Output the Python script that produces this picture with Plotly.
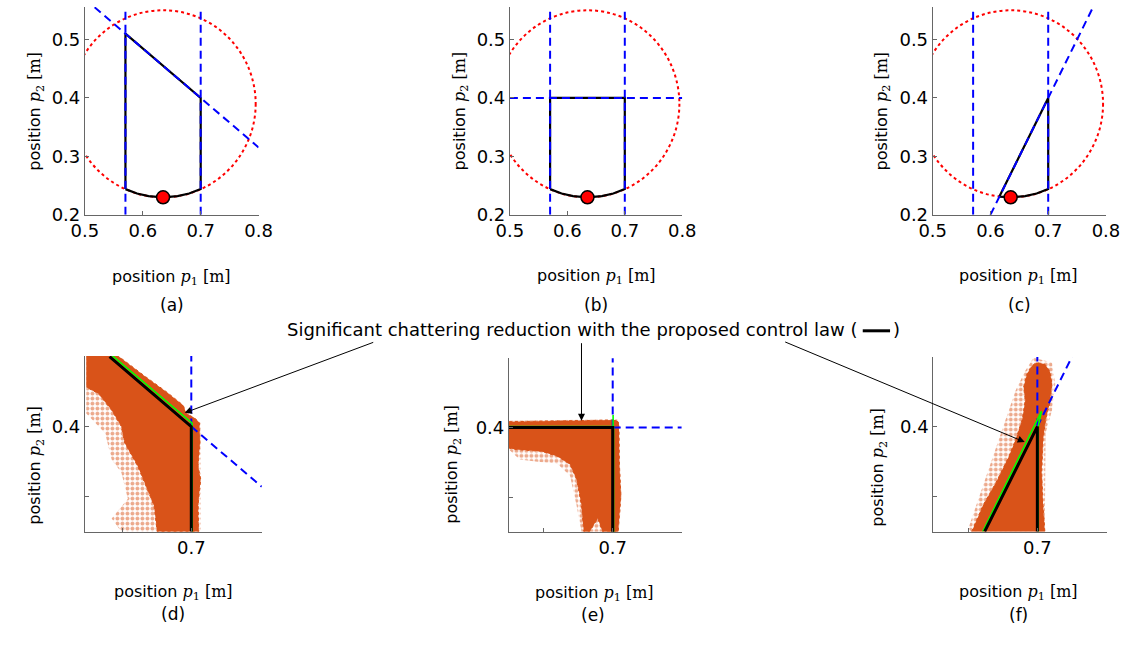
import plotly.graph_objects as go

W, H = 1146, 646
SANS = "DejaVu Sans"
SERIF = "DejaVu Serif"

# ---------------- data ----------------
# circle (workspace limit) centre and radius
circ_cx, circ_cy, circ_r = 0.635, 0.39, 0.16
start_pt = (0.635, 0.23)

# boundary of the admissible region (black), panels a-c
a_x = [0.57, 0.57, 0.70, 0.70, 0.68, 0.66, 0.635, 0.61, 0.59, 0.57]
a_y = [0.244, 0.51, 0.40, 0.244, 0.2365, 0.232, 0.230, 0.232, 0.2365, 0.244]
b_x = [0.57, 0.57, 0.70, 0.70, 0.68, 0.66, 0.635, 0.61, 0.59, 0.57]
b_y = [0.244, 0.40, 0.40, 0.244, 0.2365, 0.232, 0.230, 0.232, 0.2365, 0.244]
c_x = [0.6155, 0.70, 0.70, 0.68, 0.66, 0.635, 0.6155]
c_y = [0.2312, 0.40, 0.244, 0.2365, 0.232, 0.230, 0.2312]

# constraint lines (blue dashed): list of (xs, ys)
a_lim = [([0.57, 0.57], [0.2, 0.56]), ([0.70, 0.70], [0.2, 0.56]),
         ([0.5168, 0.80], [0.555, 0.3154])]
b_lim = [([0.57, 0.57], [0.2, 0.56]), ([0.70, 0.70], [0.2, 0.56]),
         ([0.50, 0.80], [0.40, 0.40])]
c_lim = [([0.57, 0.57], [0.2, 0.56]), ([0.70, 0.70], [0.2, 0.56]),
         ([0.60, 0.7775], [0.20, 0.555])]

# zoomed panels: boundary (black), reference (green), constraints (blue)
d_x = [0.641, 0.70, 0.70]
d_y = [0.45, 0.40, 0.325]
d_gx = [0.642, 0.7006, 0.7006]
d_gy = [0.4515, 0.4025, 0.325]
d_lim = [([0.70, 0.70], [0.40, 0.46]), ([0.70, 0.7509], [0.40, 0.357])]

e_x = [0.62, 0.70, 0.70]
e_y = [0.40, 0.40, 0.325]
e_gx = [0.62, 0.7006, 0.7006]
e_gy = [0.4008, 0.4008, 0.325]
e_g2x = [0.7003, 0.7003]
e_g2y = [0.400, 0.409]
e_lim = [([0.70, 0.70], [0.40, 0.46]), ([0.70, 0.76], [0.40, 0.40])]

f_x = [0.662, 0.70, 0.70]
f_y = [0.325, 0.40, 0.325]
f_gx = [0.6606, 0.703, 0.7006, 0.7006]
f_gy = [0.325, 0.411, 0.400, 0.325]
f_lim = [([0.70, 0.70], [0.40, 0.46]), ([0.70, 0.725], [0.40, 0.45])]

# chattering trajectories (orange clouds): sparse hull + dense core
d_sp_x = [0.6242, 0.6472, 0.7026, 0.7070, 0.7070, 0.6495, 0.6425, 0.6542, 0.6495, 0.6425, 0.6378, 0.6242]
d_sp_y = [0.4505, 0.4505, 0.4059, 0.4028, 0.3249, 0.3249, 0.3343, 0.3484, 0.3671, 0.3765, 0.3953, 0.4094]
d_dn_x = [0.6242, 0.6472, 0.6660, 0.6824, 0.6941, 0.6965, 0.7026, 0.7059, 0.7063, 0.7049, 0.7068,
          0.7049, 0.7054, 0.6754, 0.6730, 0.6660, 0.6613, 0.6519, 0.6495, 0.6425, 0.6331, 0.6242]
d_dn_y = [0.4505, 0.4505, 0.4364, 0.4246, 0.4153, 0.4094, 0.4059, 0.4028, 0.3883, 0.3718, 0.3624,
          0.3437, 0.3249, 0.3249, 0.3437, 0.3601, 0.3718, 0.3883, 0.4000, 0.4117, 0.4235, 0.4282]

e_sp_x = [0.6251, 0.7033, 0.7063, 0.7045, 0.6775, 0.6739, 0.6692, 0.6599, 0.6458, 0.6329, 0.6251]
e_sp_y = [0.4049, 0.4059, 0.3514, 0.3256, 0.3256, 0.3444, 0.3655, 0.3744, 0.3756, 0.3772, 0.3843]
e_dn_x = [0.6251, 0.6646, 0.7021, 0.7045, 0.7049, 0.7059, 0.7040, 0.6927, 0.6892, 0.6833, 0.6791,
          0.6775, 0.6739, 0.6692, 0.6599, 0.6481, 0.6364, 0.6293, 0.6251]
e_dn_y = [0.4042, 0.4049, 0.4054, 0.4035, 0.3725, 0.3514, 0.3256, 0.3256, 0.3350, 0.3256, 0.3256,
          0.3444, 0.3631, 0.3737, 0.3796, 0.3831, 0.3838, 0.3843, 0.3854]

f_sp_x = [0.6843, 0.6913, 0.6972, 0.7106, 0.7129, 0.7106, 0.7059, 0.7054, 0.6526, 0.6502]
f_sp_y = [0.4258, 0.4399, 0.4493, 0.4458, 0.4305, 0.4117, 0.3953, 0.3249, 0.3249, 0.3272]
f_dn_x = [0.6526, 0.6608, 0.6702, 0.6796, 0.6843, 0.6890, 0.6913, 0.6901, 0.6925, 0.6960, 0.6995,
          0.7054, 0.7089, 0.7106, 0.7089, 0.7059, 0.7042, 0.7031, 0.7042, 0.7054]
f_dn_y = [0.3249, 0.3437, 0.3601, 0.3789, 0.3906, 0.4047, 0.4188, 0.4282, 0.4376, 0.4434, 0.4458,
          0.4446, 0.4399, 0.4305, 0.4164, 0.4047, 0.3906, 0.3671, 0.3437, 0.3249]

top_xticks = [0.5, 0.6, 0.7, 0.8]
top_yticks = [0.2, 0.3, 0.4, 0.5]
zoom_xticks = [0.65, 0.70]
zoom_xtext = ["", "0.7"]
zoom_yticks = [0.35, 0.40]
zoom_ytext = ["", "0.4"]

panel_labels = ["(a)", "(b)", "(c)", "(d)", "(e)", "(f)"]
note_text = "Significant chattering reduction with the proposed control law ("

# ---------------- styling / layout ----------------
ORANGE = "#D95319"
BLUE = "#0000FF"
GREEN = "#00FF00"

# panel geometry in pixels: (x0, x1, ytop, ybottom, xrange, yrange)
panels = [
    (72.7, 250.7, 7.0, 218.2, [0.5, 0.8], [0.2, 0.5558]),
    (508.3, 685.0, 7.0, 218.2, [0.5, 0.8], [0.2, 0.5558]),
    (941.7, 1119.3, 7.0, 218.2, [0.5, 0.8], [0.2, 0.5558]),
    (72.7, 254.0, 361.7, 540.0, [0.6232, 0.7509], [0.3249, 0.4504]),
    (507.3, 684.3, 364.0, 540.0, [0.6251, 0.7497], [0.3256, 0.4495]),
    (942.3, 1120.0, 362.7, 540.0, [0.6249, 0.7500], [0.3249, 0.4497]),
]

def px(x):
    return x / W

def py(y):
    return 1 - y / H

fig = go.Figure()
layout = dict(width=W, height=H, margin=dict(l=0, r=0, t=0, b=0),
              paper_bgcolor="white", plot_bgcolor="white", showlegend=False)

axis_common = dict(showline=True, linecolor="#666666", linewidth=1, mirror=False,
                   ticks="inside", ticklen=4, tickcolor="#666666", showgrid=False,
                   zeroline=False, tickfont=dict(family=SANS, size=18, color="black"),
                   fixedrange=True)

for i, (x0, x1, yt, yb, xr, yr) in enumerate(panels):
    k = "" if i == 0 else str(i + 1)
    xa = dict(axis_common, domain=[px(x0), px(x1)], range=xr, anchor="y" + k)
    ya = dict(axis_common, domain=[py(yb), py(yt)], range=yr, anchor="x" + k)
    if i < 3:
        xa.update(tickvals=top_xticks, ticktext=[f"{v:.1f}" for v in top_xticks])
        ya.update(tickvals=top_yticks, ticktext=[f"{v:.1f}" for v in top_yticks])
    else:
        xa.update(tickvals=zoom_xticks, ticktext=zoom_xtext)
        ya.update(tickvals=zoom_yticks, ticktext=zoom_ytext)
    layout["xaxis" + k] = xa
    layout["yaxis" + k] = ya

def refs(i):
    k = "" if i == 0 else str(i + 1)
    return "x" + k, "y" + k

shapes = []
# top panels
for i, (bx, by, lims) in enumerate([(a_x, a_y, a_lim), (b_x, b_y, b_lim), (c_x, c_y, c_lim)]):
    xr, yr = refs(i)
    shapes.append(dict(type="circle", xref=xr, yref=yr,
                       x0=circ_cx - circ_r, x1=circ_cx + circ_r,
                       y0=circ_cy - circ_r, y1=circ_cy + circ_r,
                       line=dict(color="#FF0000", width=2, dash="dot"), layer="below"))
    fig.add_trace(go.Scatter(x=bx, y=by, mode="lines", xaxis=xr, yaxis=yr,
                             line=dict(color="black", width=2.2)))
    for lx, ly in lims:
        fig.add_trace(go.Scatter(x=lx, y=ly, mode="lines", xaxis=xr, yaxis=yr,
                                 line=dict(color=BLUE, width=2, dash="8px,5px")))
    fig.add_trace(go.Scatter(x=[start_pt[0]], y=[start_pt[1]], mode="markers",
                             xaxis=xr, yaxis=yr,
                             marker=dict(size=13, color="#FF0000",
                                         line=dict(color="black", width=1.5))))

# zoomed panels
zoom_sets = [
    (d_sp_x, d_sp_y, d_dn_x, d_dn_y, d_lim, [(d_gx, d_gy)], d_x, d_y),
    (e_sp_x, e_sp_y, e_dn_x, e_dn_y, e_lim, [(e_gx, e_gy), (e_g2x, e_g2y)], e_x, e_y),
    (f_sp_x, f_sp_y, f_dn_x, f_dn_y, f_lim, [(f_gx, f_gy)], f_x, f_y),
]
for j, (spx, spy, dnx, dny, lims, greens, bx, by) in enumerate(zoom_sets):
    xr, yr = refs(j + 3)
    fig.add_trace(go.Scatter(x=spx, y=spy, mode="lines", fill="toself", xaxis=xr, yaxis=yr,
                             line=dict(width=0, color=ORANGE),
                             fillcolor="rgba(255,255,255,0)",
                             fillpattern=dict(shape=".", fgcolor=ORANGE, bgcolor="rgba(255,255,255,0)",
                                              size=5, solidity=0.5)))
    fig.add_trace(go.Scatter(x=dnx, y=dny, mode="lines", fill="toself", xaxis=xr, yaxis=yr,
                             line=dict(width=1, color=ORANGE, dash="dot"),
                             fillcolor=ORANGE))
    for lx, ly in lims:
        fig.add_trace(go.Scatter(x=lx, y=ly, mode="lines", xaxis=xr, yaxis=yr,
                                 line=dict(color=BLUE, width=2, dash="8px,5px")))
    for gx, gy in greens:
        fig.add_trace(go.Scatter(x=gx, y=gy, mode="lines", xaxis=xr, yaxis=yr,
                                 line=dict(color=GREEN, width=1.6)))
    fig.add_trace(go.Scatter(x=bx, y=by, mode="lines", xaxis=xr, yaxis=yr,
                             line=dict(color="black", width=3)))

# text annotations
ann = []
xt_pos = [(161.7, 281.7), (596.7, 281.0), (1030.0, 281.0),
          (163.3, 601.7), (595.0, 603.3), (1030.0, 601.7)]
lab_pos = [(161.7, 310.0), (596.7, 310.0), (1030.7, 310.0),
           (163.0, 623.3), (593.3, 625.0), (1030.0, 625.0)]
yt_pos = [(22.0, 113.0), (457.3, 113.0), (890.0, 113.0),
          (22.0, 472.5), (450.0, 472.0), (886.7, 475.0)]

def label(sub):
    return (f"position <span style='font-family:{SERIF}'><i>p</i><sub>{sub}</sub>"
            f" [m]</span>")

for i in range(6):
    x, y = xt_pos[i]
    ann.append(dict(x=px(x), y=py(y), xref="paper", yref="paper", text=label(1),
                    showarrow=False, xanchor="center", yanchor="middle",
                    font=dict(family=SANS, size=16, color="black")))
    x, y = lab_pos[i]
    ann.append(dict(x=px(x), y=py(y), xref="paper", yref="paper", text=panel_labels[i],
                    showarrow=False, xanchor="center", yanchor="middle",
                    font=dict(family=SANS, size=17, color="black")))
    x, y = yt_pos[i]
    ann.append(dict(x=px(x), y=py(y), xref="paper", yref="paper", text=label(2),
                    showarrow=False, xanchor="center", yanchor="middle", textangle=-90,
                    font=dict(family=SANS, size=16, color="black")))

# note + arrows
ann.append(dict(x=px(866), y=py(335), xref="paper", yref="paper", text=note_text,
                showarrow=False, xanchor="right", yanchor="middle",
                font=dict(family=SANS, size=18, color="black")))
ann.append(dict(x=px(899), y=py(335), xref="paper", yref="paper", text=")",
                showarrow=False, xanchor="left", yanchor="middle",
                font=dict(family=SANS, size=18, color="black")))
shapes.append(dict(type="line", xref="paper", yref="paper",
                   x0=px(870), x1=px(898), y0=py(336), y1=py(336),
                   line=dict(color="black", width=3)))

arrows = [((175.0, 419.3), (365.0, 348.3)),
          ((581.7, 427.3), (581.7, 348.3)),
          ((1036.0, 449.0), (795.0, 348.3))]
for (hx, hy), (tx, ty) in arrows:
    ann.append(dict(x=px(hx), y=py(hy), xref="paper", yref="paper", text="",
                    showarrow=True, ax=tx - hx, ay=ty - hy, axref="pixel", ayref="pixel",
                    arrowhead=2, arrowsize=1.4, arrowwidth=1, arrowcolor="black",
                    standoff=0, startstandoff=0))

layout["annotations"] = ann
layout["shapes"] = shapes
fig.update_layout(**layout)
fig.write_html("out.html")
